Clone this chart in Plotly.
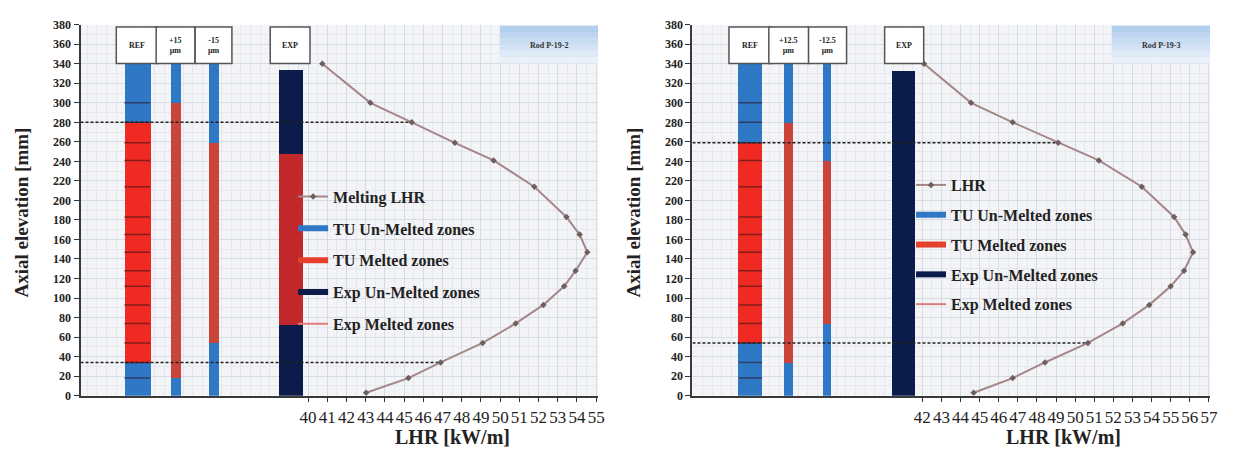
import plotly.graph_objects as go

# The page body adds an 8px margin on every side; the figure is sized to fit
# inside it exactly so the page never overflows the 1234x462 window.
OFF = 8
WIN_W, WIN_H = 1234, 462
W, H = WIN_W - 2 * OFF, WIN_H - 2 * OFF


def xp(px):
    return (px - OFF) / W


def yp(py):
    return 1 - (py - OFF) / H


# ---------------- data ----------------
# Panel 1 (Rod P-19-2)
ELEV_P1 = [340, 300, 280, 259, 241, 214, 183, 165, 147, 128, 112, 93, 74, 54, 34, 18, 3]
LHR_P1 = [40.74, 43.24, 45.40, 47.64, 49.66, 51.78, 53.45, 54.14, 54.54, 53.93, 53.33,
          52.25, 50.81, 49.09, 46.90, 45.22, 43.02]
COLS_P1 = ["REF", "+15<br>µm", "-15<br>µm", "EXP"]
MELT_LO_P1 = [34, 18, 54, 73]
MELT_HI_P1 = [280, 300, 259, 248]
TOP_P1 = [340, 340, 340, 334]
BOUND_P1 = [280, 34]
TICKS_P1 = list(range(40, 56))
LINE_NAME_P1 = "Melting LHR"
ROD_P1 = "Rod P-19-2"

# Panel 2 (Rod P-19-3)
ELEV_P2 = [340, 300, 280, 259, 241, 214, 183, 165, 147, 128, 112, 93, 74, 54, 34, 18, 3]
LHR_P2 = [42.09, 44.55, 46.73, 49.11, 51.24, 53.49, 55.18, 55.78, 56.17, 55.70, 55.00,
          53.88, 52.49, 50.67, 48.42, 46.73, 44.69]
COLS_P2 = ["REF", "+12.5<br>µm", "-12.5<br>µm", "EXP"]
MELT_LO_P2 = [54, 34, 74, None]
MELT_HI_P2 = [259, 280, 241, None]
TOP_P2 = [340, 340, 340, 333]
BOUND_P2 = [259, 54]
TICKS_P2 = list(range(42, 58))
LINE_NAME_P2 = "LHR"
ROD_P2 = "Rod P-19-3"

LEGEND_NAMES = ["TU Un-Melted zones", "TU Melted zones", "Exp Un-Melted zones", "Exp Melted zones"]

# ---------------- layout / style ----------------
FONT = "Liberation Serif"
BLUE = "#2e78c6"
RED_REF = "#ee2a22"
RED_SIDE = "#c9443a"
NAVY = "#0c1c4a"
RED_EXP = "#c1282c"
LHR_COLOR = "#a48787"

panels = [
    dict(elev=ELEV_P1, lhr=LHR_P1, cols=COLS_P1, lo=MELT_LO_P1, hi=MELT_HI_P1, top=TOP_P1,
         bound=BOUND_P1, ticks=TICKS_P1, lname=LINE_NAME_P1, rod=ROD_P1,
         xdom=(xp(81), xp(602)), xr=(28.15, 55.1),
         centers=[0.1094, 0.1836, 0.257, 0.405], widths=[0.050, 0.018, 0.019, 0.046],
         boxw=[0.0806, 0.0749, 0.0710, 0.0768],
         legx=xp(295), legy=yp(178), leggap=8, xtitle=455, ytitle=22),
    dict(elev=ELEV_P2, lhr=LHR_P2, cols=COLS_P2, lo=MELT_LO_P2, hi=MELT_HI_P2, top=TOP_P2,
         bound=BOUND_P2, ticks=TICKS_P2, lname=LINE_NAME_P2, rod=ROD_P2,
         xdom=(xp(697), xp(1218)), xr=(29.97, 57.06),
         centers=[0.112, 0.186, 0.261, 0.409], widths=[0.045, 0.017, 0.017, 0.045],
         boxw=[0.083, 0.077, 0.0735, 0.0755],
         legx=xp(917), legy=yp(166), leggap=6, xtitle=1070, ytitle=638),
]
YDOM = (yp(401), yp(18))

fig = go.Figure()
shapes, annotations = [], []

for i, p in enumerate(panels):
    xa = "x" if i == 0 else "x2"
    ya = "y" if i == 0 else "y2"
    leg = "legend" if i == 0 else "legend2"
    rmin, rmax = p["xr"]
    span = rmax - rmin
    cx = [rmin + c * span for c in p["centers"]]
    wx = [w * span for w in p["widths"]]

    bx, bbase, by, bw, bc = [], [], [], [], []

    def seg(x, w, b0, b1, col):
        bx.append(x); bbase.append(b0); by.append(b1 - b0); bw.append(w); bc.append(col)

    for j in range(3):
        red = RED_REF if j == 0 else RED_SIDE
        seg(cx[j], wx[j], 0, p["lo"][j], BLUE)
        seg(cx[j], wx[j], p["lo"][j], p["hi"][j], red)
        seg(cx[j], wx[j], p["hi"][j], p["top"][j], BLUE)
    if p["lo"][3] is None:
        seg(cx[3], wx[3], 0, p["top"][3], NAVY)
    else:
        seg(cx[3], wx[3], 0, p["lo"][3], NAVY)
        seg(cx[3], wx[3], p["lo"][3], p["hi"][3], RED_EXP)
        seg(cx[3], wx[3], p["hi"][3], p["top"][3], NAVY)

    fig.add_trace(go.Bar(x=bx, base=bbase, y=by, width=bw, marker=dict(color=bc, line=dict(width=0)),
                         xaxis=xa, yaxis=ya, showlegend=False, hoverinfo="skip"))

    # REF node lines
    sx, sy = [], []
    for e in p["elev"]:
        if 5 < e < p["top"][0]:
            sx += [cx[0] - wx[0] / 2, cx[0] + wx[0] / 2, None]
            sy += [e, e, None]
    fig.add_trace(go.Scatter(x=sx, y=sy, mode="lines", line=dict(color="rgba(50,15,25,0.55)", width=1.5),
                             xaxis=xa, yaxis=ya, showlegend=False, hoverinfo="skip"))

    # dashed boundary lines
    for b in p["bound"]:
        k = p["elev"].index(b)
        fig.add_trace(go.Scatter(x=[rmin, p["lhr"][k]], y=[b, b], mode="lines",
                                 line=dict(color="#222", width=1.6, dash="3px,2px"),
                                 xaxis=xa, yaxis=ya, showlegend=False, hoverinfo="skip"))

    # LHR curve
    fig.add_trace(go.Scatter(x=p["lhr"], y=p["elev"], mode="lines+markers", name=p["lname"],
                             line=dict(color=LHR_COLOR, width=2),
                             marker=dict(symbol="diamond", size=5, color="#6e5f5f"),
                             xaxis=xa, yaxis=ya, legend=leg, legendgroup=f"g{i}0"))

    # legend entries for zones
    leg_styles = [(BLUE, 6), ("#e4402c", 6), (NAVY, 6), ("#e07d7a", 2)]
    for k, (nm, (col, lw)) in enumerate(zip(LEGEND_NAMES, leg_styles)):
        fig.add_trace(go.Scatter(x=[None], y=[None], mode="lines", name=nm,
                                 line=dict(color=col, width=lw), xaxis=xa, yaxis=ya,
                                 legend=leg, legendgroup=f"g{i}{k+1}"))

    # header boxes
    xdref = ("x" if i == 0 else "x2") + " domain"
    for j, lab in enumerate(p["cols"]):
        c = p["centers"][j]
        bw_ = p["boxw"][j]
        shapes.append(dict(type="rect", xref=xdref, yref="paper", x0=c - bw_ / 2, x1=c + bw_ / 2,
                           y0=yp(58), y1=yp(20.5), fillcolor="white",
                           line=dict(color="#555", width=1.5), layer="above"))
        annotations.append(dict(xref=xdref, yref="paper", x=c, y=yp(39), text="<b>" + lab + "</b>",
                                showarrow=False, font=dict(family=FONT, size=8, color="#222"),
                                xanchor="center", yanchor="middle"))

    # rod label box (gradient imitation)
    bands = ["#b3cfee", "#bdd5f0", "#c8dcf2", "#d3e3f5", "#dfeaf7", "#e9f0f9"]
    y_top, y_bot = yp(19), yp(58)
    for b_i, colb in enumerate(bands):
        y1 = y_top - (y_top - y_bot) * b_i / len(bands)
        y0 = y_top - (y_top - y_bot) * (b_i + 1) / len(bands)
        shapes.append(dict(type="rect", xref=xdref, yref="paper", x0=0.81, x1=1.0, y0=y0, y1=y1,
                           fillcolor=colb, line=dict(width=0), layer="above"))
    annotations.append(dict(xref=xdref, yref="paper", x=0.905, y=yp(39), text="<b>" + p["rod"] + "</b>",
                            showarrow=False, xanchor="center", yanchor="middle",
                            font=dict(family=FONT, size=8, color="#333")))

    # axis titles
    annotations.append(dict(xref="paper", yref="paper", x=xp(p["xtitle"]), y=yp(444),
                            text="LHR [kW/m]", showarrow=False, xanchor="center", yanchor="middle",
                            font=dict(family=FONT, size=20, color="#222", weight="bold")))
    annotations.append(dict(xref="paper", yref="paper", x=xp(p["ytitle"]), y=yp(212),
                            text="Axial elevation [mm]", showarrow=False, textangle=-90,
                            xanchor="center", yanchor="middle",
                            font=dict(family=FONT, size=19, color="#222", weight="bold")))

    axis_x = dict(domain=list(p["xdom"]), range=list(p["xr"]), anchor=ya,
                  tickmode="array", tickvals=p["ticks"], ticktext=[str(t) for t in p["ticks"]],
                  tickangle=0, ticklabelstandoff=1,
                  tickfont=dict(family=FONT, size=17, color="#222"),
                  ticks="outside", ticklen=4, tickcolor="#333",
                  showline=True, linecolor="#3a3a3a", linewidth=2,
                  showgrid=True, gridcolor="#d8dbe1", gridwidth=1, zeroline=False,
                  minor=dict(tickmode="linear", tick0=0, dtick=0.5, showgrid=True,
                             gridcolor="#e6e8ec", ticks=""),
                  fixedrange=True)
    axis_y = dict(domain=list(YDOM), range=[0, 380], anchor=xa, tickmode="linear", tick0=0, dtick=20,
                  tickfont=dict(family=FONT, size=12, color="#222", weight="bold"),
                  ticks="outside", ticklen=5, tickcolor="#333",
                  showline=True, linecolor="#3a3a3a", linewidth=2,
                  showgrid=True, gridcolor="#d8dbe1", zeroline=False,
                  minor=dict(dtick=10, showgrid=True, gridcolor="#e6e8ec", ticks=""),
                  fixedrange=True)
    if i == 0:
        fig.update_layout(xaxis=axis_x, yaxis=axis_y)
    else:
        fig.update_layout(xaxis2=axis_x, yaxis2=axis_y)

    legd = dict(x=p["legx"], y=p["legy"], xanchor="left", yanchor="top",
                bgcolor="rgba(0,0,0,0)", itemwidth=30, tracegroupgap=p["leggap"],
                font=dict(family=FONT, size=16, color="#222", weight="bold"))
    if i == 0:
        fig.update_layout(legend=legd)
    else:
        fig.update_layout(legend2=legd)

fig.update_layout(
    width=W, height=H,
    margin=dict(l=0, r=0, t=0, b=0),
    paper_bgcolor="white",
    plot_bgcolor="#f3f4f7",
    barmode="overlay",
    bargap=0,
    showlegend=True,
    shapes=shapes,
    annotations=annotations,
)

fig.write_html("out.html")
